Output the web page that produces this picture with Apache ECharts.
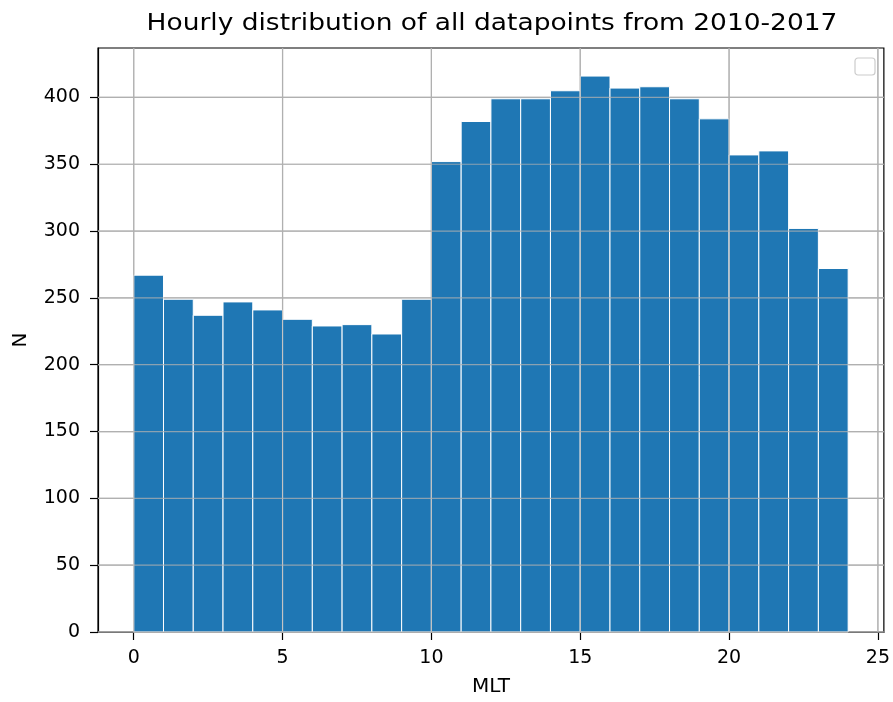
<!DOCTYPE html>
<html><head><meta charset="utf-8">
<script src="https://cdn.jsdelivr.net/npm/echarts@6/dist/echarts.min.js"></script>
<style>html,body{margin:0;padding:0;background:#fff}#c{width:893px;height:702px}</style>
</head><body><div id="c"></div>
<script>
const binStarts = [0,1,2,3,4,5,6,7,8,9,10,11,12,13,14,15,16,17,18,19,20,21,22,23];
const counts = [267,249,237,247,241,234,229,230,223,249,352,382,399,399,405,416,407,408,399,384,357,360,302,272];
const binWidth = 1;
const xTicks = [0,5,10,15,20,25];
const yTicks = [0,50,100,150,200,250,300,350,400];
const titleText = 'Hourly distribution of all datapoints from 2010-2017';
const xName = 'MLT';
const yName = 'N';

const font = 'DejaVu Sans';
const chart = echarts.init(document.getElementById('c'), null, {renderer:'canvas'});
const data = binStarts.map((s,i)=>[s, s+binWidth, counts[i]]);
function vLine(opacity){
  return function(params,api){
    const x=api.coord([api.value(0),0])[0];
    const cs=params.coordSys;
    return {type:'line',shape:{x1:x,y1:cs.y,x2:x,y2:cs.y+cs.height},style:{stroke:'#b0b0b0',lineWidth:1.2,opacity:opacity}};
  };
}
function hLine(opacity){
  return function(params,api){
    const y=api.coord([0,api.value(1)])[1];
    const cs=params.coordSys;
    return {type:'line',shape:{x1:cs.x,y1:y,x2:cs.x+cs.width,y2:y},style:{stroke:'#b0b0b0',lineWidth:1.2,opacity:opacity}};
  };
}
chart.setOption({
  animation:false,
  grid:{left:98,right:9,top:48,bottom:68,show:true,borderColor:'#000',borderWidth:1.2,backgroundColor:'#fff'},
  xAxis:{type:'value',min:-1.2,max:25.2,name:xName,nameLocation:'middle',nameGap:45,
    nameTextStyle:{fontFamily:font,fontSize:20,color:'#000'},
    axisLine:{show:true,onZero:false,lineStyle:{color:'#000',width:1.2}},
    axisTick:{show:true,length:8,customValues:xTicks,lineStyle:{color:'#000',width:1.2}},
    axisLabel:{customValues:xTicks,fontFamily:font,fontSize:19,color:'#000',margin:17},
    splitLine:{show:false}},
  yAxis:{type:'value',min:0,max:437,name:yName,nameLocation:'middle',nameGap:67,
    nameTextStyle:{fontFamily:font,fontSize:20,color:'#000'},
    axisLine:{show:true,onZero:false,lineStyle:{color:'#000',width:1.2}},
    axisTick:{show:true,length:8,customValues:yTicks,lineStyle:{color:'#000',width:1.2}},
    axisLabel:{customValues:yTicks,fontFamily:font,fontSize:19,color:'#000',margin:18},
    splitLine:{show:false}},
  graphic:[
    {type:'text',x:492,y:24,scaleX:1.15,style:{text:titleText,align:'center',verticalAlign:'middle',font:'23px "DejaVu Sans"',fill:'#000'}},
    {type:'rect',x:855,y:58,shape:{width:20,height:17,r:3},style:{fill:'#fff',stroke:'#cccccc',lineWidth:1.2}}
  ],
  series:[
    {type:'custom',z:1,silent:true,data:xTicks.map(v=>[v]),renderItem:vLine(1)},
    {type:'custom',z:1,silent:true,data:yTicks.map(v=>[0,v]),renderItem:hLine(1)},
    {type:'custom',z:2,data:data,
     renderItem:function(params,api){
       const p0=api.coord([api.value(0),0]);
       const p1=api.coord([api.value(1),api.value(2)]);
       return {type:'rect',shape:{x:p0[0],y:p1[1],width:p1[0]-p0[0],height:p0[1]-p1[1]},
         style:{fill:'#1f77b4',stroke:'#fff',lineWidth:1}};
     }},
    {type:'custom',z:3,silent:true,data:xTicks.map(v=>[v]),renderItem:vLine(0.75)},
    {type:'custom',z:3,silent:true,data:yTicks.map(v=>[0,v]),renderItem:hLine(0.75)}
  ]
});
</script></body></html>
